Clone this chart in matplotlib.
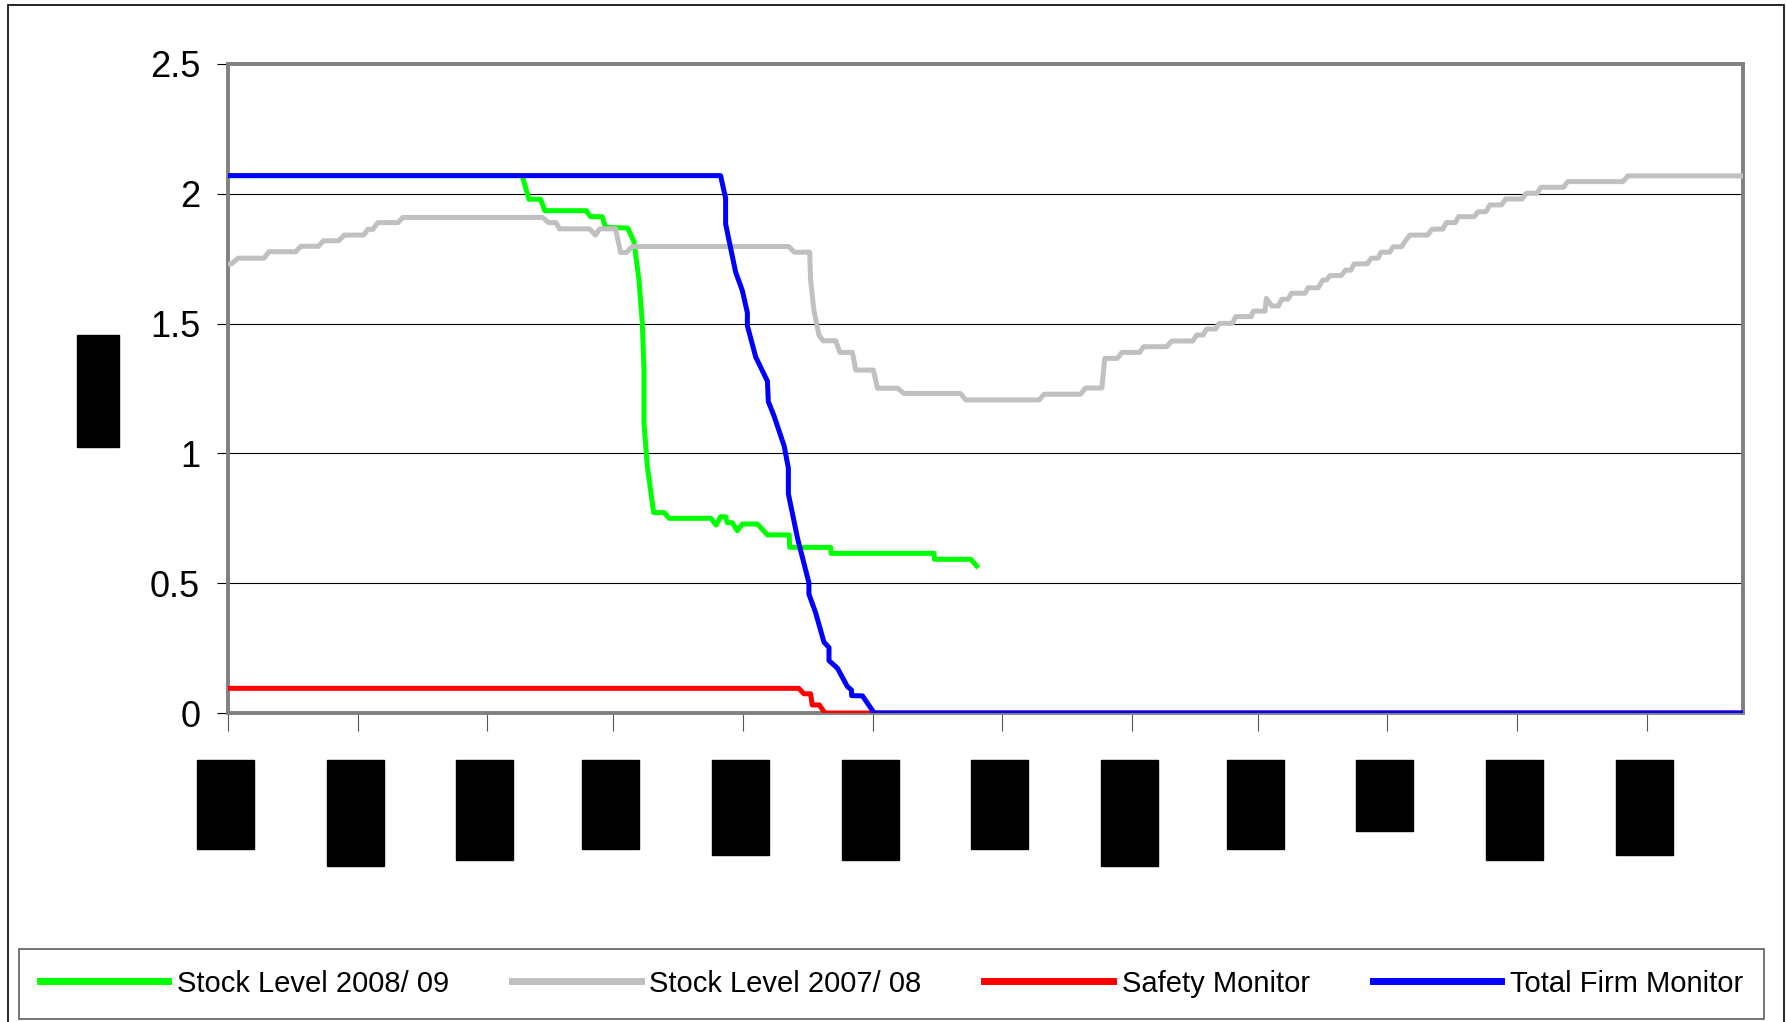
# stock level chart: 2008/09 vs 2007/08 plus the two monitors

import numpy as np
import matplotlib.pyplot as plt
from matplotlib.patches import Rectangle
from matplotlib.transforms import IdentityTransform

plt.rcParams['font.family'] = ['Liberation Sans', 'DejaVu Sans']

# day index along the year, value on the y axis
green_x = [0, 70.3, 71.9, 74.7, 75.7, 85.6, 86.6, 89.4, 90.2, 95.5, 97, 98.2, 99, 99.4, 99.4,
           100.2, 101.7, 104.2, 105.4, 115.4, 116.6, 117.7, 118.9, 119.3, 120.5, 121.7, 122.9,
           126.5, 128.9, 134.1, 134.2, 144, 144.1, 168.7, 168.8, 177.5, 178.9]
green_y = [2.07, 2.07, 1.979, 1.979, 1.935, 1.935, 1.912, 1.912, 1.871, 1.868, 1.816, 1.668, 1.501,
           1.321, 1.116, 0.949, 0.772, 0.772, 0.75, 0.75, 0.724, 0.756, 0.756, 0.733, 0.733, 0.702,
           0.728, 0.728, 0.686, 0.686, 0.638, 0.638, 0.615, 0.615, 0.592, 0.592, 0.566]

grey_x = [0, 0.8, 2.4, 8.6, 9.8, 16.2, 17.4, 21.6, 22.8, 26.4, 27.8, 32.4, 33.4, 34.6, 35.8, 40.6,
          41.8, 75.2, 76.6, 78.4, 79.2, 86.4, 87.8, 88.8, 92.6, 93.8, 95.2, 96.6, 134, 135.3, 139,
          139.2, 140, 141.2, 142.2, 145.2, 146.2, 149.2, 150, 154.2, 155.2, 160, 161.5, 175, 176.3,
          193.8, 195, 203.7, 204.9, 208.8, 209.5, 212.5, 213.6, 217.8, 218.8, 224.3, 225.5, 230.5,
          231.5, 233, 233.8, 236, 236.8, 240, 240.8, 244.5, 245, 247.8, 248.1, 249.4, 251, 251.8,
          253.3, 254.1, 257.3, 258.1, 260.5, 261.6, 262.5, 263.3, 266, 267, 268.3, 269.1, 272.2,
          273.2, 274.8, 275.5, 277.6, 278.4, 280.4, 281.3, 282.4, 286.6, 287.7, 290.3, 291.1,
          293.3, 294, 297.8, 298.7, 300.6, 301.5, 304.3, 305.3, 309.2, 310.2, 312.8, 313.7, 319.1,
          320.1, 333.3, 334.5, 362]
grey_y = [1.73, 1.73, 1.752, 1.752, 1.777, 1.777, 1.798, 1.798, 1.819, 1.819, 1.841, 1.841, 1.863,
          1.863, 1.889, 1.889, 1.909, 1.909, 1.889, 1.889, 1.865, 1.865, 1.841, 1.865, 1.865, 1.774,
          1.774, 1.797, 1.797, 1.775, 1.775, 1.668, 1.552, 1.456, 1.434, 1.434, 1.389, 1.389, 1.321,
          1.321, 1.251, 1.251, 1.231, 1.231, 1.206, 1.206, 1.228, 1.228, 1.252, 1.252, 1.366, 1.366,
          1.389, 1.389, 1.411, 1.411, 1.433, 1.433, 1.456, 1.456, 1.479, 1.479, 1.501, 1.501, 1.527,
          1.527, 1.548, 1.548, 1.597, 1.568, 1.568, 1.594, 1.594, 1.617, 1.617, 1.638, 1.638, 1.668,
          1.668, 1.685, 1.685, 1.706, 1.706, 1.73, 1.73, 1.752, 1.752, 1.775, 1.775, 1.796, 1.796,
          1.818, 1.841, 1.841, 1.864, 1.864, 1.889, 1.889, 1.912, 1.912, 1.931, 1.931, 1.957, 1.957,
          1.98, 1.98, 2.002, 2.002, 2.025, 2.025, 2.047, 2.047, 2.069, 2.069]

red_x = [0, 136.4, 137.6, 139.2, 139.6, 141.3, 142.6, 362]
red_y = [0.095, 0.095, 0.074, 0.074, 0.031, 0.031, 0.0, 0.0]

blue_x = [0, 117.7, 118.9, 118.9, 121.3, 122.9, 124.1, 124.1, 126.1, 128.9, 129.1, 130.5, 132.9,
          133.9, 133.9, 136.1, 138.8, 138.8, 140.4, 142.4, 143.6, 143.6, 145.6, 148, 149, 149,
          151.6, 154.4, 362]
blue_y = [2.07, 2.07, 1.983, 1.884, 1.698, 1.627, 1.542, 1.492, 1.371, 1.278, 1.2, 1.143, 1.028,
          0.943, 0.844, 0.672, 0.502, 0.458, 0.387, 0.273, 0.252, 0.202, 0.173, 0.102, 0.088, 0.067,
          0.066, 0.0, 0.0]

series_names = ['Stock Level 2008/ 09', 'Stock Level 2007/ 08', 'Safety Monitor', 'Total Firm Monitor']
# month boundaries (days) where the x ticks sit; labels are blacked out in the source
month_ticks = [0, 31, 62, 92, 123, 154, 185, 216, 246, 277, 308, 339]
label_box_px = [89, 106, 100, 89, 95, 100, 89, 106, 89, 71, 100, 95]

W, H = 1786, 1022
fig = plt.figure(figsize=(W / 100, H / 100), dpi=100)
ax = fig.add_axes([228 / W, 1 - 713 / H, 1515 / W, 649 / H])

ax.plot(green_x, green_y, color='#00ff00', lw=3.6, label=series_names[0], zorder=3)
ax.plot(grey_x, grey_y, color='#c0c0c0', lw=3.6, label=series_names[1], zorder=3)
ax.plot(red_x, red_y, color='#ff0000', lw=3.6, label=series_names[2], zorder=3)
ax.plot(blue_x, blue_y, color='#0000ff', lw=3.6, label=series_names[3], zorder=3)

ax.set_xlim(0, 362)
ax.set_ylim(0, 2.5)
ax.set_yticks(np.arange(0, 2.51, 0.5))
ax.set_yticklabels(['0', '0.5', '1', '1.5', '2', '2.5'])
ax.set_xticks(month_ticks)
ax.set_xticklabels([''] * len(month_ticks))
ax.yaxis.grid(True, color='black', lw=0.8, zorder=1)
ax.set_axisbelow(True)
ax.tick_params(axis='y', length=8, width=0.8, color='black', pad=12, labelsize=26)
ax.tick_params(axis='x', length=13, width=0.8, color='#555555')
for s in ax.spines.values():
    s.set_color('#808080')
    s.set_linewidth(2.8)

leg = fig.legend(loc='center', bbox_to_anchor=(19 / W, 4 / H, 1745 / W, 69 / H), mode='expand',
                 ncol=4, fontsize=21, handlelength=4.4, handletextpad=0.3, columnspacing=1.8,
                 borderpad=0.72, borderaxespad=0, fancybox=False, frameon=True)
leg.get_frame().set_edgecolor('#333333')
leg.get_frame().set_linewidth(1.2)
for h in leg.get_lines():
    h.set_linewidth(5)

# redacted axis title and tick labels
fig.add_artist(Rectangle((77, H - 447), 42, 112, transform=IdentityTransform(), color='black'))
fig.canvas.draw()
for t, hpx in zip(month_ticks, label_box_px):
    px = ax.transData.transform((t, 0))[0]
    fig.add_artist(Rectangle((px - 31, H - 760 - hpx), 57, hpx,
                             transform=IdentityTransform(), color='black'))

# outer border
fig.add_artist(Rectangle((8 / W, -0.01), 1776 / W, 1.005 - 5 / H + 0.005, transform=fig.transFigure,
                         fill=False, edgecolor='black', lw=1.2))

fig.savefig('out.png', dpi=100)
